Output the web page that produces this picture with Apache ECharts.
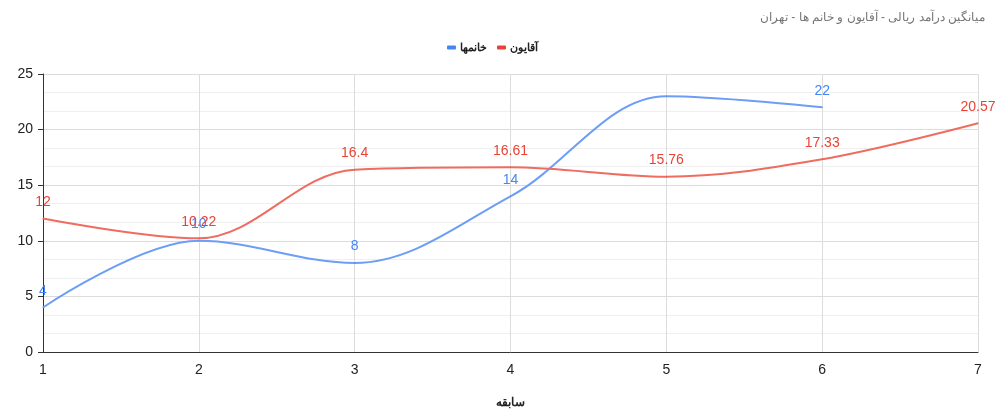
<!DOCTYPE html>
<html><head><meta charset="utf-8">
<script src="https://cdn.jsdelivr.net/npm/echarts@6/dist/echarts.min.js"></script>
<style>html,body{margin:0;padding:0;background:#fff}#c{width:1000px;height:415px}</style>
</head><body><div id="c"></div>
<script>
const categories = ['1','2','3','4','5','6','7'];
const womenValues = [4, 10, 8, 14, 23, 22];
const menValues = [12, 10.22, 16.4, 16.61, 15.76, 17.33, 20.57];
const hiddenWomenLabels = [4];
const yTicks = [0, 5, 10, 15, 20, 25];

const FONT = '"Liberation Sans", Arial, sans-serif';
const chart = echarts.init(document.getElementById('c'));
chart.setOption({
  animation: false,
  title: {
    text: 'میانگین درآمد ریالی - آقایون و خانم ها - تهران',
    right: 10, top: 7,
    textStyle: {fontFamily: FONT, fontSize: 12, fontWeight: 'normal', color: '#757575'}
  },
  legend: {
    top: 37, left: 442,
    itemWidth: 9, itemHeight: 4, itemGap: 10,
    icon: 'roundRect',
    data: ['خانمها', 'آقایون'],
    textStyle: {fontFamily: FONT, fontSize: 11, fontWeight: 'bold', color: '#222', padding: [0, 0, 0, -1]}
  },
  grid: {left: 43, right: 22, top: 74, bottom: 63, containLabel: false},
  xAxis: {
    type: 'category', data: categories, boundaryGap: false,
    name: 'سابقه', nameLocation: 'middle', nameGap: 45,
    nameTextStyle: {fontFamily: FONT, fontSize: 12, fontWeight: 'bold', color: '#222'},
    axisLine: {lineStyle: {color: '#333', width: 1}},
    axisTick: {show: false},
    axisLabel: {fontFamily: FONT, fontSize: 14, color: '#222', margin: 11},
    splitLine: {show: true, lineStyle: {color: '#dcdcdc'}}
  },
  yAxis: {
    type: 'value', min: yTicks[0], max: yTicks[yTicks.length - 1], interval: 5,
    axisLine: {show: true, lineStyle: {color: '#333'}},
    axisTick: {show: true, length: 5, lineStyle: {color: '#333'}},
    axisLabel: {fontFamily: FONT, fontSize: 14, color: '#222', margin: 10},
    splitLine: {lineStyle: {color: '#dcdcdc'}},
    minorTick: {show: false, splitNumber: 3},
    minorSplitLine: {show: true, lineStyle: {color: '#efefef'}}
  },
  series: [
    {
      name: 'خانمها', type: 'line', smooth: 0.35,
      data: womenValues.map((v, i) => hiddenWomenLabels.includes(i) ? {value: v, label: {show: false}} : v),
      showSymbol: true, symbol: 'circle', symbolSize: 1,
      itemStyle: {color: '#4285f4'},
      lineStyle: {width: 2, color: '#6d9ef5'},
      label: {show: true, position: 'top', distance: 9, fontFamily: FONT, fontSize: 14, color: '#4285f4'},
      z: 2
    },
    {
      name: 'آقایون', type: 'line', smooth: 0.35,
      data: menValues,
      showSymbol: true, symbol: 'circle', symbolSize: 1,
      itemStyle: {color: '#ea4335'},
      lineStyle: {width: 2, color: '#ef6c60'},
      label: {show: true, position: 'top', distance: 9, fontFamily: FONT, fontSize: 14, color: '#ea4335'},
      z: 3
    }
  ]
});
</script></body></html>
